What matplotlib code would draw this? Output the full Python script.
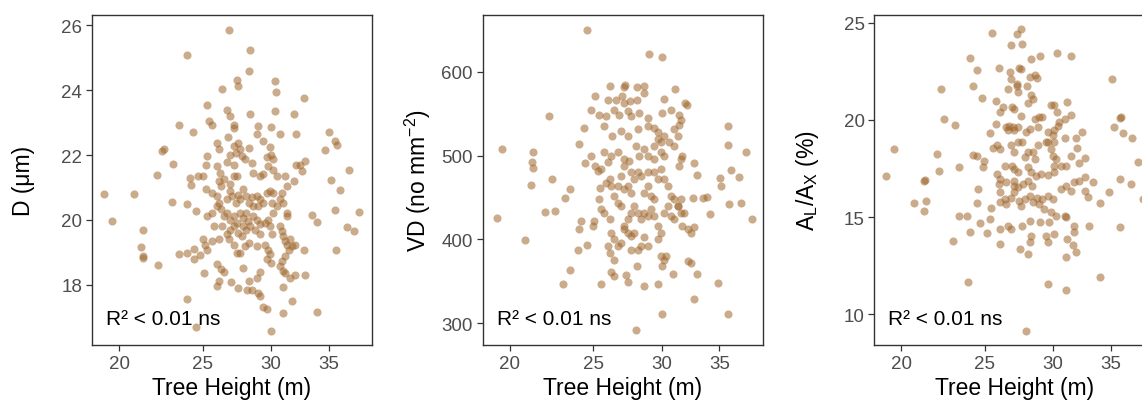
import matplotlib
matplotlib.use("Agg")
import matplotlib.pyplot as plt
from matplotlib.ticker import NullLocator

plt.rcParams['font.family'] = ['Liberation Sans', 'DejaVu Sans']
plt.rcParams['mathtext.fontset'] = 'custom'
plt.rcParams['mathtext.rm'] = 'Liberation Sans'
plt.rcParams['mathtext.it'] = 'Liberation Sans:italic'

# vessel diameter vs tree height
d_points = [
    (26.8, 25.85), (24.0, 25.1), (28.4, 25.25), (28.3, 24.6), (27.4, 24.3), (27.5, 24.13), (30.35, 24.28),
    (30.4, 23.94), (26.3, 24.05), (32.75, 23.77), (25.3, 23.53), (26.65, 23.4), (26.9, 23.2), (30.3, 23.36),
    (31.9, 23.28), (25.4, 23.05), (25.6, 22.92), (27.15, 22.93), (27.15, 22.84), (23.45, 22.93), (24.35, 22.72),
    (28.4, 23.28), (29.0, 22.9), (28.9, 22.64), (30.0, 22.87), (30.75, 22.66), (32.1, 22.66), (26.75, 22.57),
    (35.0, 22.72), (35.6, 22.43), (35.8, 22.3), (34.7, 22.17), (22.4, 22.12), (22.55, 22.2), (23.1, 21.71),
    (22.1, 21.38), (24.15, 21.3), (24.2, 21.07), (24.7, 21.35), (25.0, 21.35), (25.3, 21.97), (25.2, 21.7),
    (26.0, 22.36), (26.1, 22.2), (27.15, 22.28), (27.3, 22.07), (27.5, 22.38), (27.6, 22.2), (26.9, 22.0),
    (26.7, 21.77), (27.15, 21.7), (27.75, 21.97), (28.3, 22.23), (28.0, 21.87), (28.5, 21.76), (29.4, 22.43),
    (29.95, 22.26), (30.0, 22.0), (30.2, 21.87), (29.7, 21.95), (29.8, 21.66), (30.2, 21.55), (30.45, 21.35),
    (28.6, 21.45), (29.1, 21.35), (29.4, 21.4), (25.97, 21.66), (26.2, 21.45), (26.5, 21.25), (26.1, 21.2),
    (25.2, 20.94), (25.6, 20.84), (26.0, 20.74), (26.25, 21.04), (27.15, 21.35), (27.4, 21.35), (26.9, 21.1),
    (31.15, 21.35), (31.9, 21.2), (32.1, 21.7), (32.45, 21.7), (32.9, 21.82), (32.6, 21.5), (35.2, 21.22),
    (37.0, 21.53), (36.1, 20.91), (31.3, 21.04), (30.9, 20.84), (19.2, 20.81), (20.8, 20.81), (19.6, 19.98),
    (23.05, 20.55), (23.96, 20.5), (24.55, 20.27), (25.3, 20.12), (25.6, 20.22), (26.1, 20.53), (26.25, 20.32),
    (25.97, 20.43), (26.7, 20.63), (26.9, 20.89), (27.05, 20.74), (27.3, 20.53), (27.5, 20.78), (27.6, 20.63),
    (27.85, 20.94), (28.1, 20.74), (28.3, 20.53), (28.5, 20.7), (28.6, 20.43), (28.9, 20.74), (29.1, 20.63),
    (29.0, 20.43), (29.4, 20.53), (29.7, 20.84), (29.95, 20.89), (30.2, 20.84), (30.1, 20.53), (30.45, 20.43),
    (30.7, 20.63), (31.0, 20.53), (31.3, 20.22), (31.35, 20.12), (26.5, 20.12), (26.7, 20.22), (26.9, 20.0),
    (27.15, 20.12), (27.4, 19.9), (27.6, 20.22), (27.85, 20.07), (28.1, 20.22), (28.25, 19.96), (28.4, 19.8),
    (28.6, 20.12), (28.75, 19.7), (28.9, 20.0), (29.1, 19.86), (29.5, 19.91), (29.8, 20.0), (29.95, 19.8),
    (30.2, 20.22), (28.1, 19.7), (27.85, 19.8), (27.15, 19.8), (26.9, 19.7), (26.7, 19.55), (27.5, 19.6),
    (27.8, 19.5), (25.8, 19.8), (26.3, 19.8), (33.5, 20.14), (33.92, 19.93), (35.6, 20.3), (38.0, 20.24),
    (36.8, 19.78), (37.5, 19.66), (35.7, 19.06), (21.3, 19.7), (21.2, 19.17), (21.3, 18.88), (21.3, 18.83),
    (22.2, 18.6), (23.45, 18.96), (24.0, 18.97), (24.45, 19.1), (24.4, 18.78), (24.85, 18.92), (25.0, 19.4),
    (25.15, 19.24), (25.3, 19.08), (25.6, 19.34), (26.1, 19.4), (26.8, 19.4), (27.15, 19.24), (27.4, 18.99),
    (27.6, 18.99), (28.0, 19.2), (28.3, 19.3), (28.9, 19.2), (29.5, 19.24), (29.8, 19.08), (29.95, 18.94),
    (29.7, 18.78), (30.0, 18.68), (29.1, 19.55), (30.1, 19.55), (30.7, 19.8), (30.9, 19.66), (31.0, 19.5),
    (31.15, 19.35), (31.3, 19.24), (31.6, 19.4), (31.75, 19.2), (32.0, 19.24), (31.45, 19.08), (31.15, 18.88),
    (30.9, 18.73), (30.75, 18.58), (30.95, 18.42), (31.15, 18.35), (32.75, 19.06), (25.97, 18.63), (26.25, 18.47),
    (26.5, 18.39), (25.1, 18.35), (26.1, 18.11), (25.97, 17.96), (27.85, 18.52), (27.0, 18.08), (27.5, 17.9),
    (28.3, 18.1), (28.15, 17.85), (28.5, 17.85), (29.0, 17.75), (29.1, 17.65), (28.9, 18.2), (29.1, 18.4),
    (31.6, 18.2), (32.0, 18.3), (32.9, 18.3), (30.95, 17.94), (31.75, 17.5), (24.0, 17.55), (29.4, 17.3),
    (29.7, 17.24), (30.95, 17.12), (33.92, 17.17), (24.55, 16.7), (30.0, 16.57),
]

# vessel density vs tree height
vd_points = [
    (24.6, 650), (29.0, 622), (30.0, 618), (19.3, 426), (19.6, 508), (20.8, 399), (21.3, 504), (21.2, 493),
    (21.3, 485), (21.15, 465), (22.2, 547), (22.4, 472), (21.95, 433), (22.55, 434), (23.5, 460), (23.15, 449),
    (23.5, 364), (23.05, 347), (26.1, 583), (27.1, 582), (27.2, 584), (28.1, 582), (28.6, 583), (25.1, 571),
    (26.0, 567), (26.55, 567), (27.0, 571), (27.15, 563), (27.6, 565), (28.1, 567), (28.6, 575), (30.2, 568),
    (31.1, 580), (31.95, 563), (32.1, 561), (24.85, 555), (25.4, 549), (25.85, 547), (26.45, 555), (26.8, 549),
    (27.4, 553), (27.65, 547), (28.25, 551), (28.9, 545), (30.0, 551), (30.75, 555), (31.45, 549), (31.6, 543),
    (24.4, 533), (25.75, 535), (26.3, 524), (26.9, 530), (27.4, 524), (28.15, 532), (28.9, 535), (29.4, 533),
    (29.7, 528), (30.2, 524), (31.0, 532), (31.35, 524), (31.45, 537), (24.05, 514), (24.45, 491), (24.85, 500),
    (25.1, 488), (25.3, 482), (25.5, 484), (26.0, 492), (26.2, 500), (26.7, 504), (27.15, 496), (27.5, 494),
    (28.0, 512), (28.25, 500), (28.65, 508), (28.9, 500), (29.4, 512), (29.7, 520), (29.95, 516), (29.4, 496),
    (29.95, 504), (30.2, 500), (30.6, 516), (31.0, 512), (31.6, 496), (31.45, 488), (31.7, 500), (35.8, 535),
    (35.8, 513), (37.55, 505), (36.1, 483), (36.9, 475), (35.1, 473), (35.2, 464), (35.95, 442), (37.1, 443),
    (38.15, 424), (32.75, 491), (32.95, 477), (33.9, 451), (32.6, 450), (33.5, 449), (34.1, 430), (24.2, 422),
    (24.05, 412), (24.0, 388), (24.6, 393), (25.05, 422), (24.95, 416), (25.4, 448), (25.45, 462), (25.85, 468),
    (26.1, 472), (26.2, 464), (26.45, 452), (26.7, 444), (26.9, 476), (27.15, 460), (27.4, 464), (27.65, 456),
    (27.9, 472), (28.15, 480), (28.4, 476), (28.65, 456), (28.9, 464), (29.15, 452), (29.4, 480), (29.7, 472),
    (29.95, 484), (30.2, 472), (30.5, 464), (30.75, 452), (31.0, 448), (31.3, 440), (31.6, 448), (31.85, 432),
    (31.7, 416), (32.15, 412), (32.75, 415), (32.45, 408), (25.5, 436), (25.75, 432), (26.1, 424), (26.2, 408),
    (26.45, 400), (26.0, 392), (26.1, 384), (26.45, 376), (26.7, 392), (26.9, 396), (27.15, 416), (27.4, 424),
    (27.65, 432), (27.9, 440), (28.15, 432), (28.4, 424), (28.65, 432), (28.9, 428), (29.15, 436), (29.4, 428),
    (29.7, 416), (29.95, 408), (30.2, 432), (30.5, 440), (30.75, 428), (31.0, 424), (31.3, 440), (31.6, 432),
    (27.15, 412), (27.4, 408), (27.65, 404), (27.9, 408), (28.15, 388), (28.4, 392), (28.65, 403), (28.9, 392),
    (29.7, 400), (29.95, 380), (30.2, 376), (30.05, 368), (30.35, 380), (30.9, 359), (32.15, 374), (32.45, 372),
    (33.0, 359), (32.75, 329), (29.7, 347), (28.65, 345), (27.3, 357), (27.45, 349), (28.1, 368), (27.65, 388),
    (25.5, 347), (26.2, 361), (26.45, 356), (28.0, 292), (30.0, 311), (35.8, 311), (34.85, 348), (27.15, 488),
    (27.65, 480), (25.75, 504), (28.9, 480), (29.4, 448), (26.9, 440), (26.7, 464),
]

# lumen-to-xylem area ratio vs tree height
al_points = [
    (27.5, 24.67), (27.25, 24.4), (25.45, 24.47), (26.8, 23.88), (27.6, 23.9), (24.0, 23.19), (28.3, 23.16),
    (28.95, 23.28), (30.3, 23.45), (31.5, 23.31), (24.45, 22.59), (25.95, 22.68), (26.7, 22.47), (27.4, 22.68),
    (27.5, 22.64), (26.8, 22.13), (28.2, 22.21), (28.55, 22.33), (28.75, 22.18), (24.2, 21.75), (22.2, 21.61),
    (24.8, 21.15), (26.55, 21.61), (27.2, 21.87), (27.25, 21.75), (27.3, 21.44), (28.0, 21.75), (28.3, 21.3),
    (28.45, 21.1), (25.75, 21.0), (28.05, 20.87), (35.1, 22.09), (22.4, 20.06), (23.05, 19.75), (23.3, 17.6),
    (19.6, 18.48), (19.2, 17.1), (22.0, 18.24), (22.1, 17.36), (20.7, 15.73), (21.25, 16.85), (21.3, 16.93),
    (21.35, 15.85), (21.25, 15.3), (24.2, 18.22), (24.45, 18.14), (24.95, 17.88), (24.9, 17.57), (24.55, 16.45),
    (24.45, 15.71), (23.35, 15.04), (23.85, 15.07), (24.0, 14.21), (22.95, 13.78), (23.9, 11.68), (24.65, 14.7),
    (25.15, 14.16), (25.35, 14.9), (25.4, 15.47), (25.35, 19.34), (25.75, 19.79), (26.0, 20.41), (26.25, 20.66),
    (25.55, 18.57), (25.8, 18.69), (26.05, 18.51), (26.45, 19.63), (26.65, 19.67), (26.95, 19.63), (27.05, 19.46),
    (27.3, 19.63), (26.55, 19.46), (26.85, 20.66), (27.05, 20.58), (27.55, 20.2), (28.55, 20.06), (28.9, 20.15),
    (29.15, 20.15), (28.8, 19.63), (28.2, 19.55), (27.9, 19.37), (29.85, 20.79), (30.1, 20.75), (30.3, 20.41),
    (31.15, 20.92), (31.45, 20.23), (30.95, 20.03), (30.45, 19.89), (30.35, 19.68), (29.6, 19.37), (30.1, 19.46),
    (29.95, 19.2), (29.6, 18.86), (30.1, 18.86), (30.95, 19.07), (31.85, 19.07), (32.4, 19.37), (29.4, 18.86),
    (28.8, 18.69), (28.45, 18.34), (28.05, 18.34), (27.6, 18.86), (27.3, 18.86), (26.8, 18.69), (27.05, 18.34),
    (27.8, 18.08), (28.55, 18.0), (29.85, 18.51), (29.95, 18.17), (30.25, 18.0), (30.1, 17.65), (30.6, 17.65),
    (31.0, 17.65), (31.45, 18.17), (31.95, 18.57), (32.15, 17.78), (32.7, 18.03), (26.35, 17.65), (26.85, 17.65),
    (27.05, 17.48), (27.3, 17.31), (28.05, 17.57), (28.3, 17.31), (28.65, 17.14), (29.0, 17.22), (29.6, 17.17),
    (30.1, 17.31), (25.8, 17.22), (26.05, 16.97), (25.95, 16.71), (26.45, 16.8), (27.05, 16.88), (27.05, 16.62),
    (27.3, 16.54), (27.65, 16.71), (28.05, 16.88), (28.35, 16.62), (26.05, 16.28), (26.35, 15.93), (26.05, 15.76),
    (26.45, 15.68), (26.8, 15.98), (27.05, 16.28), (27.4, 15.85), (27.55, 15.59), (27.8, 15.93), (28.2, 16.1),
    (28.45, 15.76), (28.7, 15.98), (28.85, 15.68), (29.1, 15.93), (29.25, 15.42), (29.6, 16.1), (29.95, 15.93),
    (29.85, 15.25), (30.2, 15.07), (30.95, 15.07), (31.05, 14.99), (30.6, 16.45), (31.0, 16.62), (31.45, 16.36),
    (31.75, 16.79), (32.15, 16.88), (32.7, 17.05), (33.4, 16.83), (32.7, 16.36), (32.95, 16.02), (34.0, 15.71),
    (34.85, 16.31), (35.85, 16.97), (36.95, 16.71), (35.25, 19.63), (35.85, 20.1), (36.0, 20.15), (36.15, 19.32),
    (37.05, 19.07), (37.65, 17.86), (38.1, 15.93), (35.85, 14.5), (33.0, 14.56), (31.75, 14.56), (31.75, 14.21),
    (31.15, 13.87), (31.6, 13.56), (31.85, 13.18), (31.05, 12.97), (30.1, 14.13), (29.45, 14.04), (29.55, 13.73),
    (28.3, 14.01), (28.2, 13.73), (28.05, 13.1), (27.45, 13.35), (27.6, 14.56), (28.2, 14.82), (28.95, 14.76),
    (29.7, 14.76), (26.8, 14.39), (26.55, 14.56), (26.05, 14.39), (26.0, 13.61), (29.55, 11.58), (31.0, 11.24),
    (33.95, 11.93), (27.9, 9.14),
]

height_ticks = [20, 25, 30, 35]
panels = [
    (d_points, "D (μm)", [18, 20, 22, 24, 26], (16.14, 26.32)),
    (vd_points, r"VD (no mm$^{-2}$)", [300, 400, 500, 600], (274, 668)),
    (al_points, r"A$_\mathregular{L}$/A$_\mathregular{X}$ (%)", [10, 15, 20, 25], (8.42, 25.4)),
]
r2_label = "R² < 0.01 ns"

point_color = "#A0662C"
W, H = 1142, 406
fig = plt.figure(figsize=(W / 100, H / 100), dpi=100)

lefts = [92, 482.7, 874.3]
for left, (pts, ylab, yticks, ylim) in zip(lefts, panels):
    ax = fig.add_axes([left / W, 60 / H, 280 / W, 330 / H])
    xs = [p[0] for p in pts]
    ys = [p[1] for p in pts]
    ax.scatter(xs, ys, s=34, color=point_color, alpha=0.55, linewidths=0, zorder=3)

    ax.set_xscale('log')
    ax.set_xlim(18.6, 39.3)
    ax.set_xticks(height_ticks)
    ax.set_xticklabels([str(t) for t in height_ticks])
    ax.xaxis.set_minor_locator(NullLocator())
    ax.set_yticks(yticks)
    ax.set_ylim(*ylim)

    for sp in ax.spines.values():
        sp.set_color('#333333')
        sp.set_linewidth(1.0)
    ax.tick_params(axis='both', direction='out', length=4, width=0.9, color='#333333',
                   labelcolor='#4D4D4D', labelsize=13.5, pad=3)

    ax.set_xlabel("Tree Height (m)", fontsize=16.5, color='black', labelpad=3)
    ax.set_ylabel(ylab, fontsize=16.5, color='black')
    ax.yaxis.label.set_va('top')
    ax.yaxis.set_label_coords(-80 / 280, 0.5)

    ax.text(0.05, 0.064, r2_label, transform=ax.transAxes, fontsize=15,
            ha='left', va='baseline', color='black')

fig.savefig("out.png", dpi=100)
